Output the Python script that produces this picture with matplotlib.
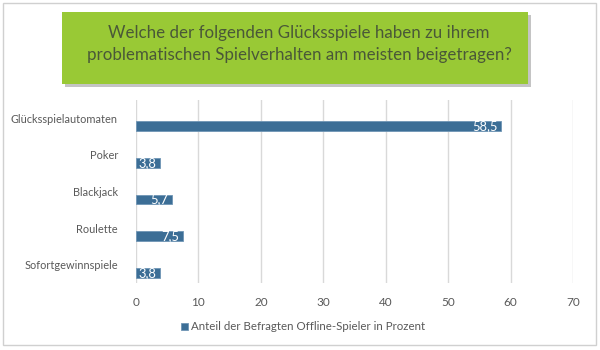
import numpy as np
from matplotlib import pyplot as plt
from matplotlib.patches import Rectangle

plt.rcParams['font.family'] = ['Lato', 'DejaVu Sans']

#%% Data

categories = ['Glücksspielautomaten', 'Poker', 'Blackjack', 'Roulette', 'Sofortgewinnspiele']
values = [58.5, 3.8, 5.7, 7.5, 3.8]
value_labels = ['58,5', '3,8', '5,7', '7,5', '3,8']
x_ticks = [0, 10, 20, 30, 40, 50, 60, 70]
title = 'Welche der folgenden Glücksspiele haben zu ihrem\nproblematischen Spielverhalten am meisten beigetragen?'
series_name = 'Anteil der Befragten Offline-Spieler in Prozent'

BAR_COLOR = '#3c6e96'
TEXT_COLOR = '#595959'
GRID_COLOR = '#d9d9d9'

#%% Figure

fig = plt.figure(figsize=(6, 3.5), dpi=100)

# outer frame
fig.patches.append(Rectangle((3/600, 5/350), 593/600, 342/350, transform=fig.transFigure,
                             fill=False, edgecolor='#d0d0d0', linewidth=1))

# green title box with shadow
fig.patches.append(Rectangle((65/600, 1 - 87/350), 466/600, 72/350, transform=fig.transFigure,
                             facecolor='#8a8a8a', edgecolor='none', alpha=0.5))
fig.patches.append(Rectangle((62/600, 1 - 84/350), 466/600, 72/350, transform=fig.transFigure,
                             facecolor='#99c935', edgecolor='none'))
fig.text(299/600, 1 - 44/350, title, ha='center', va='center', fontsize=12.2,
         color='#4a5838', linespacing=1.4)

ax = fig.add_axes([136/600, 1 - 283/350, 437/600, 183/350])

y = np.arange(len(categories))
offset = 0.22
ax.barh(y + offset, values, height=0.27, color=BAR_COLOR, edgecolor='#6f95b5',
        linewidth=0.6, label=series_name, zorder=3)

for yi, v, lab in zip(y, values, value_labels):
    ax.text(v - 0.6, yi + offset, lab, ha='right', va='center', color='white',
            fontsize=9.3, zorder=4)

ax.set_xlim(0, 70)
ax.set_ylim(len(categories) - 0.5, -0.5)
ax.set_xticks(x_ticks)
ax.set_xticklabels([str(t) for t in x_ticks])
ax.set_yticks(y)
ax.set_yticklabels(categories)
ax.tick_params(axis='both', length=0, colors=TEXT_COLOR)
ax.tick_params(axis='x', pad=10, labelsize=8.5)
ax.tick_params(axis='y', pad=13, labelsize=7.9)
ax.xaxis.grid(True, color=GRID_COLOR, linewidth=1, zorder=0)
for s in ax.spines.values():
    s.set_visible(False)

leg = fig.legend(loc='center', bbox_to_anchor=(303/600, 1 - 327/350), frameon=False,
                 fontsize=8.3, handlelength=0.6, handleheight=0.6, handletextpad=0.3)
for t in leg.get_texts():
    t.set_color(TEXT_COLOR)

plt.savefig('out.png', dpi=100)
